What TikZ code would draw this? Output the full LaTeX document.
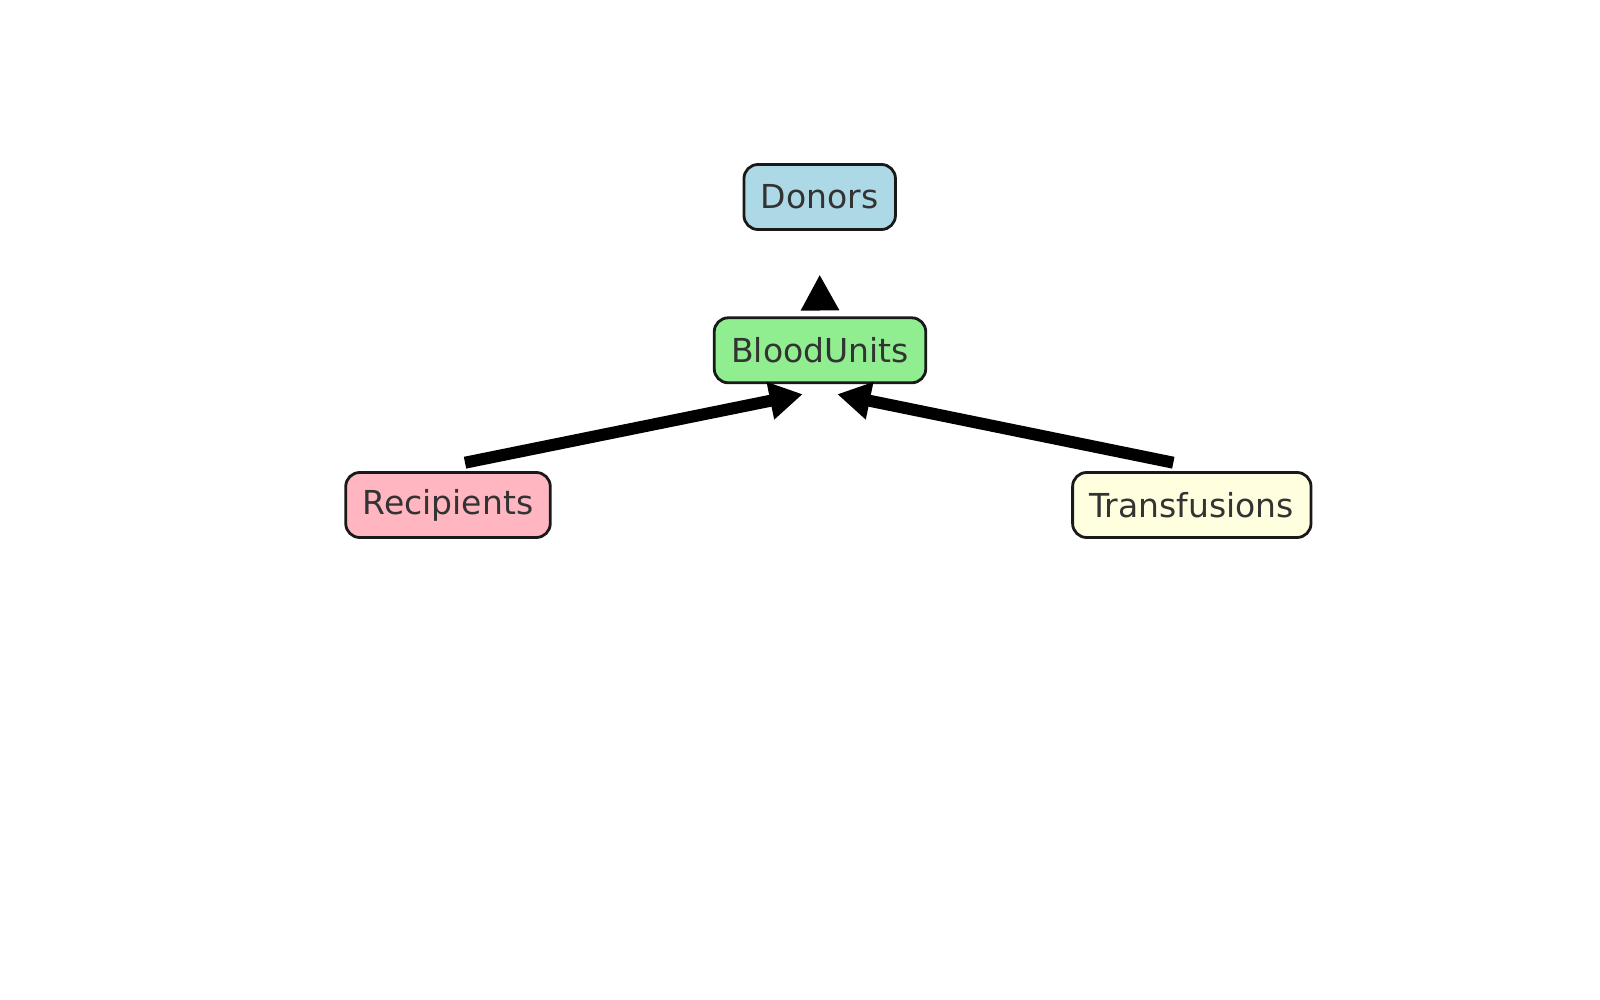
\documentclass[tikz,border=0pt]{standalone}
\usepackage{fontspec}
\setmainfont{DejaVu Sans}
\usetikzlibrary{arrows.meta,calc}
\definecolor{cblue}{HTML}{ADD8E6}
\definecolor{cgreen}{HTML}{90EE90}
\definecolor{cpink}{HTML}{FFB6C1}
\definecolor{cyellow}{HTML}{FFFFE0}
\definecolor{ctext}{HTML}{333333}
\begin{document}
\begin{tikzpicture}[x=1pt,y=-1pt,
  box/.style={draw=black!90,line width=2.8pt,rounded corners=14pt,
    minimum height=65pt,inner xsep=17pt,inner ysep=0pt,
    font=\fontsize{33}{39}\selectfont,text=ctext},
  conn/.style={line width=12pt,-{Triangle[length=33pt,width=36pt]}},
  upconn/.style={line width=10pt,-{Triangle[length=36pt,width=36pt]}}]
\path[use as bounding box,fill=white] (0,0) rectangle (1600,1000);
\node[box,fill=cblue] (don) at (819.7,197) {Donors};
\node[box,fill=cgreen] (bu) at (820,350.3) {BloodUnits};
\node[box,fill=cpink] (rec) at (448,505) {Recipients};
\node[box,fill=cyellow] (tra) at (1191.8,505) {Transfusions};
\draw[upconn] ($(bu.north)+(0,-7)$) -- ($(don.south)+(0,43.6)$);
\draw[conn] ($(rec.north)+(17,-8.4)$) -- ($(bu.south)+(-17.3,10)$);
\draw[conn] ($(tra.north)+(-18.5,-8.4)$) -- ($(bu.south)+(17.3,10)$);
\end{tikzpicture}
\end{document}
